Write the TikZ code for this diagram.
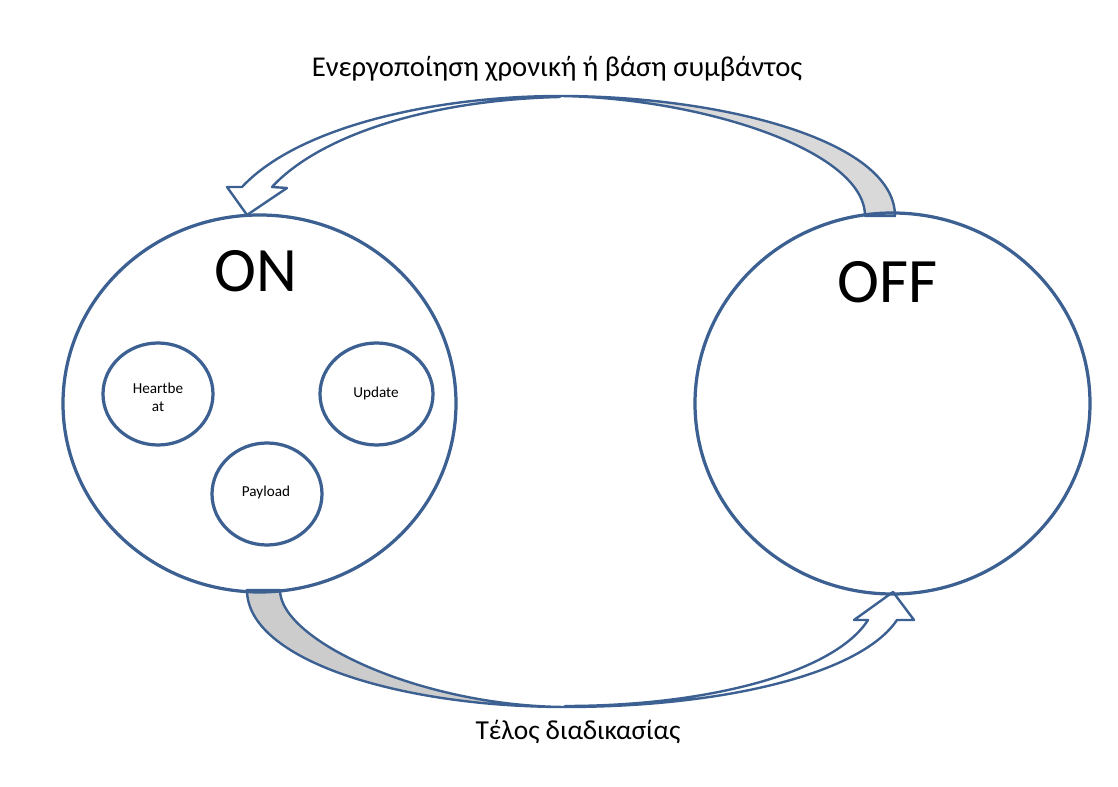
\documentclass[tikz,border=0pt]{standalone}
\usepackage{fontspec}
\setmainfont{Carlito}
\usetikzlibrary{shapes.geometric}
\definecolor{edge}{RGB}{59,96,145}
\definecolor{backtop}{RGB}{217,217,217}
\definecolor{backbot}{RGB}{204,204,204}
\begin{document}
\begin{tikzpicture}[x=0.25mm, y=-0.25mm,
  ring/.style={ellipse, draw=edge, line width=2.3pt, inner sep=0pt},
  bandfront/.style={draw=edge, line width=1.7pt, fill=white, line join=round},
  bandback/.style={draw=edge, line width=1.7pt, line join=round},
  bigword/.style={font=\fontsize{45}{54}\selectfont, anchor=base, inner sep=0pt},
  caption/.style={anchor=base, inner sep=0pt},
  tiny/.style={font=\fontsize{10.8}{12.8}\selectfont, align=center, inner sep=0pt}
]
\useasboundingbox (0,0) rectangle (1118,787);
\fill[white] (0,0) rectangle (1118,787);

% upper curved arrow, OFF -> ON: shaded back half and white front half with head
\path[bandback, fill=backtop] (560,96) .. controls (720,96) and (895,140) .. (895,216)
  -- (865,216) .. controls (865,150) and (700,98) .. (560,96) -- cycle;
\path[bandfront] (560,96) .. controls (440,96) and (300,125) .. (242,187)
  -- (227,187) -- (247,215) -- (287,188) -- (272,187)
  .. controls (320,135) and (430,100) .. (560,97) -- cycle;

% lower curved arrow, ON -> OFF
\path[bandback, fill=backbot] (247,590) .. controls (247,660) and (400,707) .. (565,707)
  .. controls (420,706) and (280,640) .. (280,590) -- cycle;
\path[bandfront] (565,707) .. controls (720,707) and (860,675) .. (897,620)
  -- (914,620) -- (893,592) -- (854,620) -- (868,620)
  .. controls (835,672) and (710,706) .. (565,706) -- cycle;

% states
\node[ring, minimum width=98.25mm, minimum height=94.25mm] (on) at (259.5,403.5) {};
\node[ring, minimum width=98.75mm, minimum height=95.25mm] (off) at (892.5,403.5) {};
\node[bigword] (ontext) at (256,292) {ON};
\node[bigword] (offtext) at (888,303) {OFF};

% activities inside ON
\node[ring, minimum width=27.5mm, minimum height=25.5mm] (heart) at (158,394) {};
\node[ring, minimum width=28.25mm, minimum height=25.5mm] (update) at (376.5,394) {};
\node[ring, minimum width=27.5mm, minimum height=25.5mm] (payload) at (267,494) {};
\node[tiny] (hearttext) at (158,397) {Heartbe\\at};
\node[tiny, anchor=base] (updatetext) at (376,398) {Update};
\node[tiny, anchor=base] (payloadtext) at (266,497) {Payload};

% transition labels
\node[caption, font=\fontsize{20.4}{24}\selectfont] (wake) at (557,77) {Ενεργοποίηση χρονική ή βάση συμβάντος};
\node[caption, font=\fontsize{19.5}{24}\selectfont] (done) at (578,740) {Τέλος διαδικασίας};
\end{tikzpicture}
\end{document}
